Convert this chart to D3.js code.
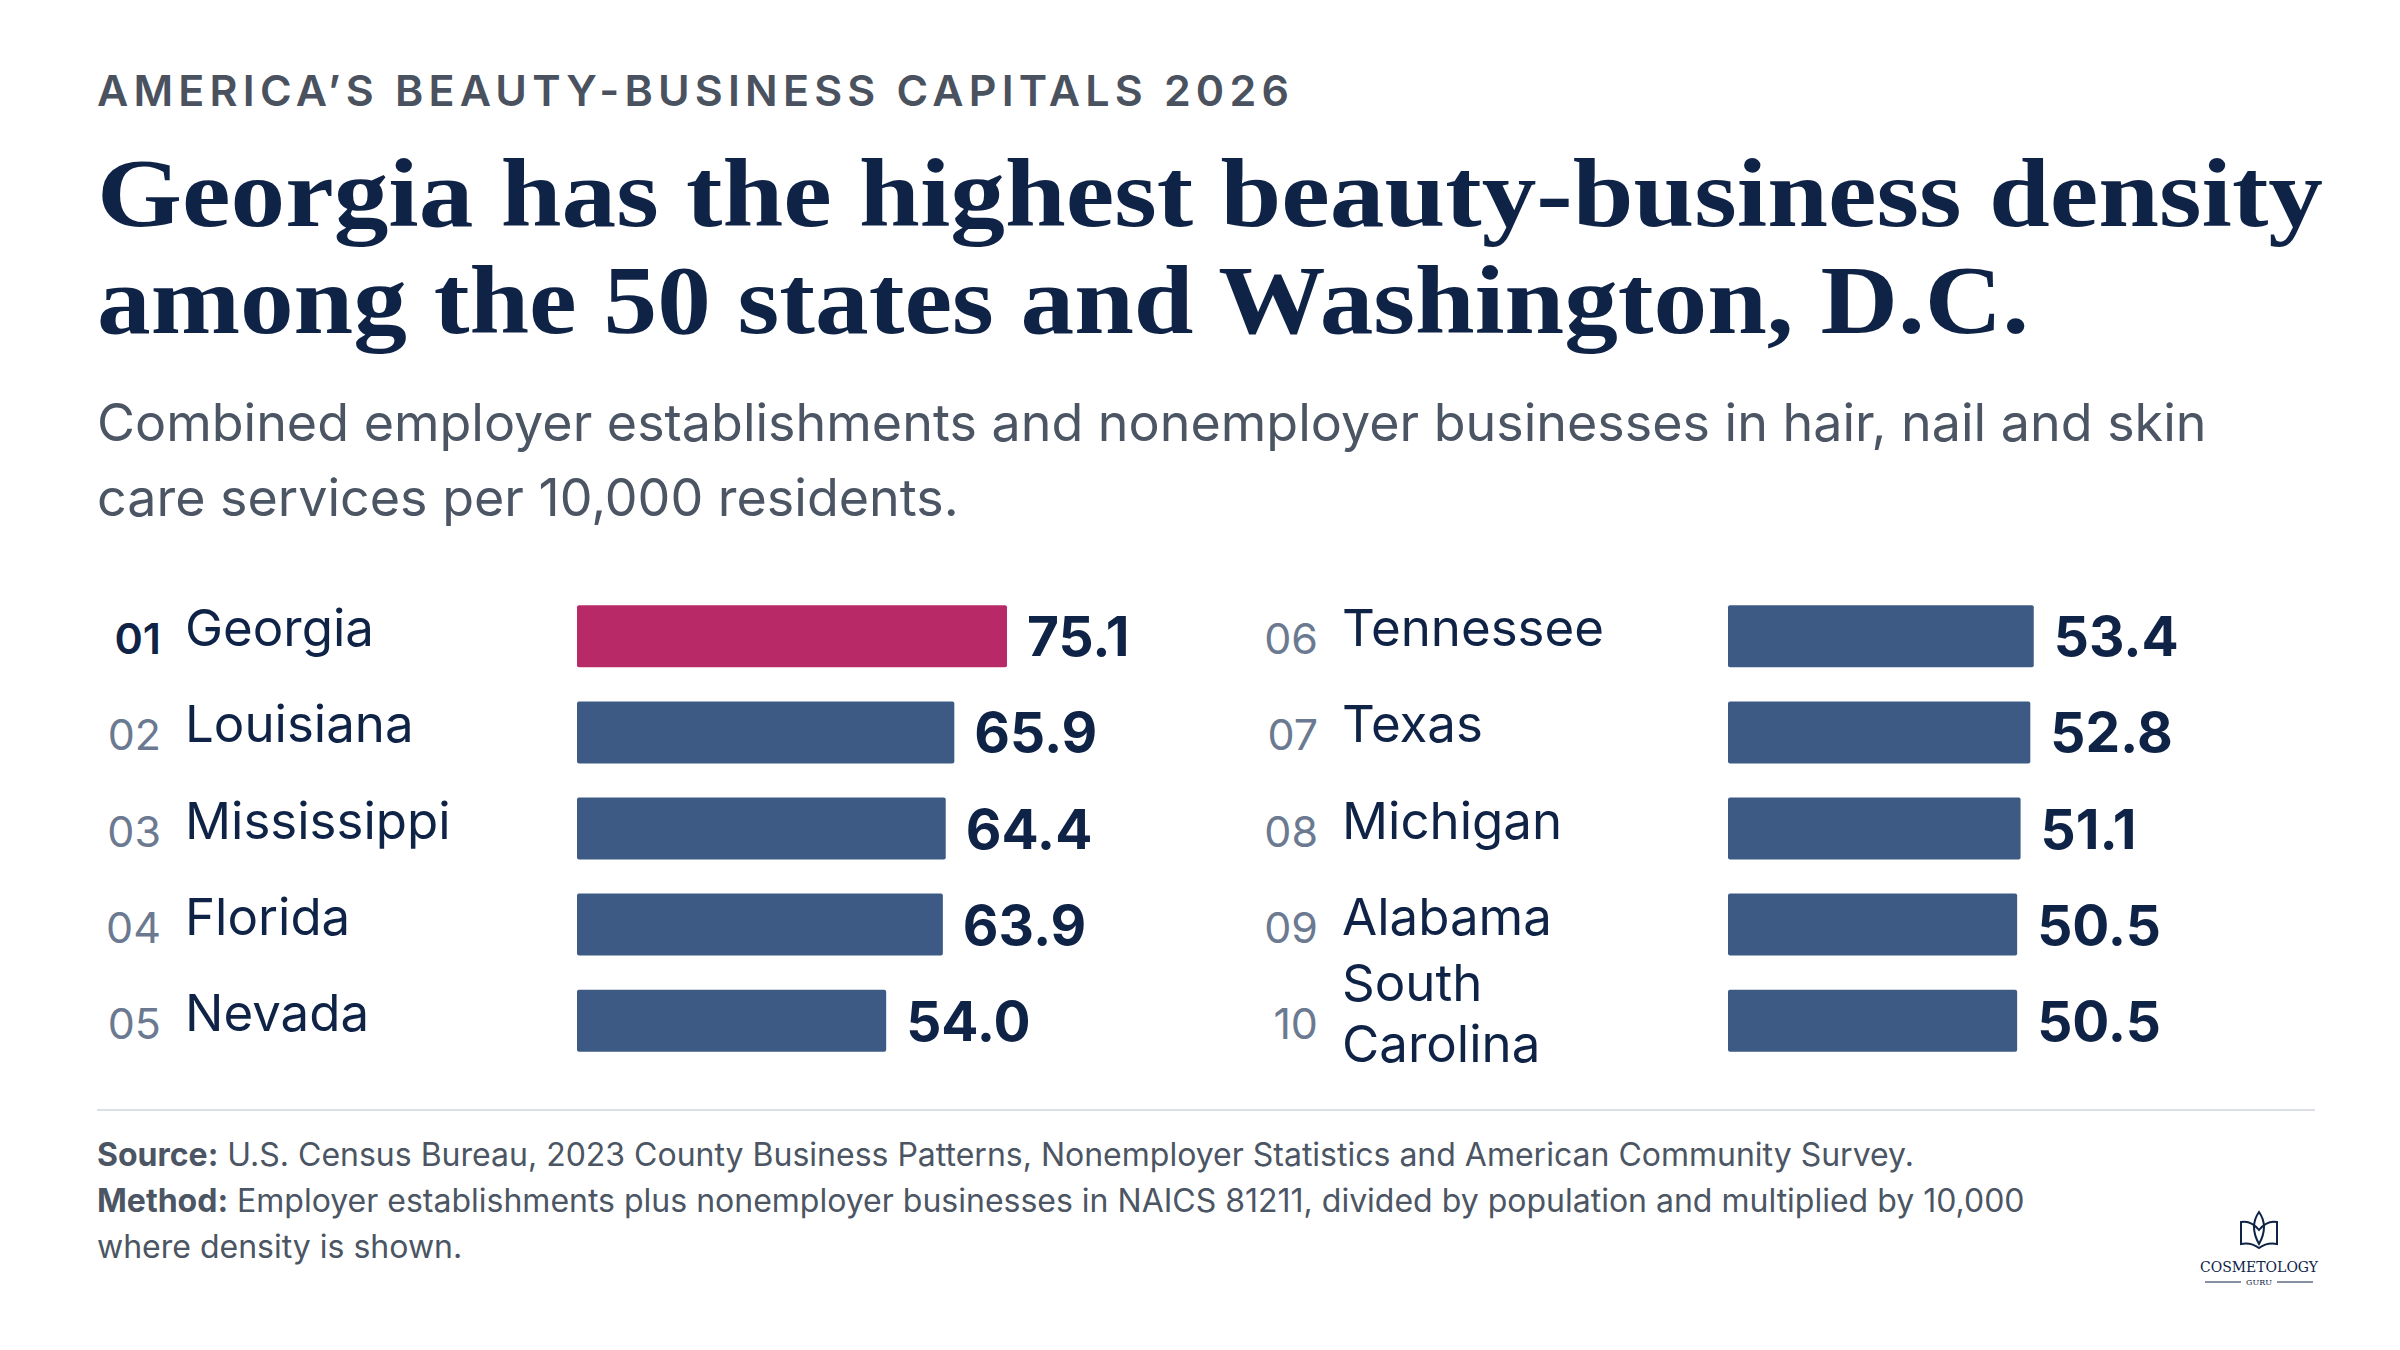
<!DOCTYPE html>
<html><head><meta charset="utf-8">
<script src="https://cdn.jsdelivr.net/npm/d3@7"></script>
<style>body{margin:0;background:#fff}</style>
</head><body>
<script>
const ranks = ["01","02","03","04","05","06","07","08","09","10"]
const states = ["Georgia","Louisiana","Mississippi","Florida","Nevada","Tennessee","Texas","Michigan","Alabama","South Carolina"]
const values = [75.1,65.9,64.4,63.9,54.0,53.4,52.8,51.1,50.5,50.5]

const W = 2400, H = 1350
const navy = "#0f2347", gray = "#4b5563", barColor = "#3d5a84", hot = "#b82a67"
const svg = d3.select("body").append("svg").attr("width", W).attr("height", H)
svg.append("rect").attr("width", W).attr("height", H).attr("fill", "#fff")

svg.append("text").attr("x", 97).attr("y", 106)
    .attr("font-family", "Inter").attr("font-weight", 600).attr("font-size", 43)
    .attr("letter-spacing", 5.2).attr("fill", "#4a5260")
    .text("AMERICA\u2019S BEAUTY-BUSINESS CAPITALS 2026")

const titleLines = ["Georgia has the highest beauty-business density", "among the 50 states and Washington, D.C."]
const titleLens = [2226, 1932]
svg.selectAll("text.title").data(titleLines).join("text").attr("class", "title")
    .attr("x", 97).attr("y", (d, i) => 226 + i * 107)
    .attr("font-family", "Liberation Serif").attr("font-weight", 700).attr("font-size", 98)
    .attr("textLength", (d, i) => titleLens[i]).attr("lengthAdjust", "spacingAndGlyphs")
    .attr("fill", navy).text(d => d)

const subLines = ["Combined employer establishments and nonemployer businesses in hair, nail and skin", "care services per 10,000 residents."]
svg.selectAll("text.sub").data(subLines).join("text").attr("class", "sub")
    .attr("x", 97).attr("y", (d, i) => 441 + i * 75)
    .attr("font-family", "Inter").attr("font-size", 52).attr("fill", gray).text(d => d)

const x = d3.scaleLinear().domain([0, 75.1]).range([0, 430])
const y = d3.scaleBand().domain(d3.range(5)).range([588, 1069]).paddingInner(0.355).paddingOuter(0.18)
const cols = [{rankX: 161, nameX: 185, barX: 577}, {rankX: 1318, nameX: 1342, barX: 1728}]

const rows = values.map((v, i) => ({v, i, rank: ranks[i], name: states[i], col: cols[Math.floor(i / 5)], r: i % 5}))
const g = svg.selectAll("g.row").data(rows).join("g").attr("class", "row")
    .attr("transform", d => `translate(0,${y(d.r) + y.bandwidth() / 2})`)

g.append("rect").attr("x", d => d.col.barX).attr("y", -y.bandwidth() / 2)
    .attr("width", d => x(d.v)).attr("height", y.bandwidth()).attr("rx", 2)
    .attr("fill", d => d.i === 0 ? hot : barColor)
g.append("text").attr("x", d => d.col.barX + x(d.v) + 20).attr("y", 20)
    .attr("font-family", "Inter").attr("font-weight", 700).attr("font-size", 55)
    .attr("fill", navy).text(d => d.v.toFixed(1))
g.append("text").attr("x", d => d.col.rankX).attr("y", 18).attr("text-anchor", "end")
    .attr("font-family", "Inter").attr("font-size", 43)
    .attr("font-weight", d => d.i === 0 ? 600 : 400)
    .attr("fill", d => d.i === 0 ? navy : "#6b7a90").text(d => d.rank)
g.each(function(d) {
  const parts = d.name === "South Carolina" ? ["South", "Carolina"] : [d.name]
  d3.select(this).selectAll("text.name").data(parts).join("text").attr("class", "name")
      .attr("x", d.col.nameX)
      .attr("y", (p, k) => parts.length === 1 ? 10 : -20 + k * 61)
      .attr("font-family", "Inter").attr("font-size", 51).attr("fill", navy).text(p => p)
})

svg.append("line").attr("x1", 97).attr("x2", 2315).attr("y1", 1110).attr("y2", 1110)
    .attr("stroke", "#dcdfe4").attr("stroke-width", 2)

const notes = [["Source:", " U.S. Census Bureau, 2023 County Business Patterns, Nonemployer Statistics and American Community Survey."],
  ["Method:", " Employer establishments plus nonemployer businesses in NAICS 81211, divided by population and multiplied by 10,000"],
  ["", "where density is shown."]]
notes.forEach((n, i) => {
  const t = svg.append("text").attr("x", 97).attr("y", 1166 + i * 46)
      .attr("font-family", "Inter").attr("font-size", 32).attr("fill", gray)
  t.append("tspan").attr("font-weight", 700).text(n[0])
  t.append("tspan").text(n[1])
})

// logo
const lg = svg.append("g").attr("transform", "translate(2259,1238)").attr("fill", "none").attr("stroke", navy).attr("stroke-width", 2)
lg.append("path").attr("d", "M-18,-16 L-18,6 Q-8,4 0,10 Q8,4 18,6 L18,-16 Q8,-18 0,-8 Q-8,-18 -18,-16 Z")
lg.append("path").attr("d", "M0,-26 Q10,-12 0,6 Q-10,-12 0,-26 Z")
svg.append("text").attr("x", 2259).attr("y", 1272).attr("text-anchor", "middle")
    .attr("font-family", "DejaVu Serif").attr("font-size", 14).attr("fill", navy).text("COSMETOLOGY")
svg.append("text").attr("x", 2259).attr("y", 1285).attr("text-anchor", "middle")
    .attr("font-family", "DejaVu Serif").attr("font-size", 8).attr("fill", navy).text("GURU")
svg.append("line").attr("x1", 2205).attr("x2", 2241).attr("y1", 1282).attr("y2", 1282).attr("stroke", navy)
svg.append("line").attr("x1", 2277).attr("x2", 2313).attr("y1", 1282).attr("y2", 1282).attr("stroke", navy)
</script>
</body></html>
